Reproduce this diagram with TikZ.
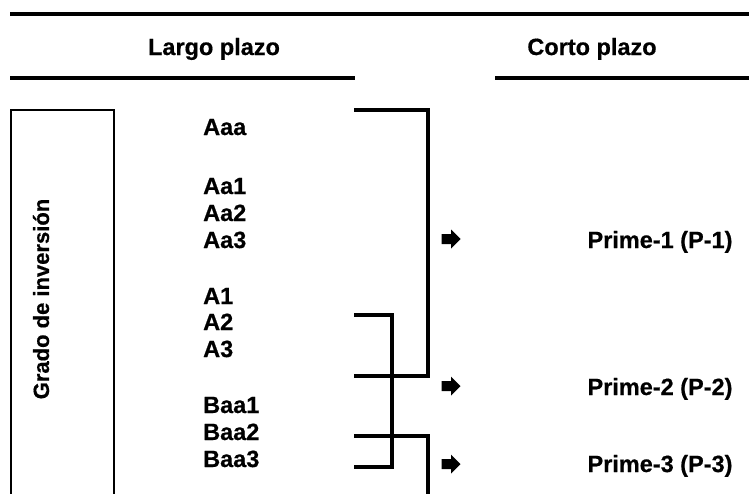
\documentclass[tikz,border=0pt]{standalone}
\usepackage{fontspec}
\setmainfont{Liberation Sans}[BoldFeatures={FakeBold=0.6}]
\begin{document}
\begin{tikzpicture}[x=1pt,y=-1pt,
  txt/.style={font=\fontsize{23.5}{28}\selectfont\bfseries, inner sep=0pt},
  lbl/.style={txt, anchor=base west},
  hdr/.style={txt, anchor=base},
  rulel/.style={line width=3.3pt},
  brk/.style={line width=3.3pt, line join=miter},
  blockarrow/.style={fill=black}
]
\useasboundingbox (0,0) rectangle (749,493);
% header rules
\coordinate (t1) at (10,14);   \coordinate (t2) at (752,14);
\coordinate (l1) at (10,78);   \coordinate (l2) at (355,78);
\coordinate (r1) at (495,78);  \coordinate (r2) at (752,78);
\draw[rulel] (t1) -- (t2);
\draw[rulel] (l1) -- (l2);
\draw[rulel] (r1) -- (r2);
\node[hdr] (largo) at (214,55) {Largo plazo};
\node[hdr] (corto) at (592,55) {Corto plazo};
% side box
\node[draw, line width=2pt, minimum width=103pt, minimum height=420pt, anchor=north west, inner sep=0pt] (box) at (10,109) {};
\node[inner sep=0pt, font=\fontsize{22}{26}\selectfont\bfseries, rotate=90] (grado) at (41,299) {Grado de inversión};
% labels
\node[lbl] (aaa) at (203,135) {Aaa};
\node[lbl] (aa1) at (203,194) {Aa1};
\node[lbl] (aa2) at (203,221) {Aa2};
\node[lbl] (aa3) at (203,248) {Aa3};
\node[lbl] (a1) at (203,304) {A1};
\node[lbl] (a2) at (203,330) {A2};
\node[lbl] (a3) at (203,357) {A3};
\node[lbl] (baa1) at (203,413) {Baa1};
\node[lbl] (baa2) at (203,440) {Baa2};
\node[lbl] (baa3) at (203,467) {Baa3};
% brackets
\coordinate (b1a) at (354,110); \coordinate (b1b) at (428,110);
\coordinate (b1c) at (428,376); \coordinate (b1d) at (354,376);
\coordinate (b2a) at (354,315); \coordinate (b2b) at (392,315);
\coordinate (b2c) at (392,467); \coordinate (b2d) at (354,467);
\coordinate (b3a) at (354,436); \coordinate (b3b) at (428,436);
\coordinate (b3c) at (428,500);
\draw[brk] (b1a) -- (b1b) -- (b1c) -- (b1d);
\draw[brk] (b2a) -- (b2b) -- (b2c) -- (b2d);
\draw[brk] (b3a) -- (b3b) -- (b3c);
% arrows
\coordinate (ar1) at (451,239);
\coordinate (ar2) at (451,386);
\coordinate (ar3) at (451,464);
\foreach \c in {ar1,ar2,ar3}
  \fill[blockarrow, shift={(\c)}] (-9.5,-5) -- (0,-5) -- (0,-9.5)
    -- (9.5,0) -- (0,9.5) -- (0,5) -- (-9.5,5) -- cycle;
% results
\node[hdr] (p1) at (660,248) {Prime-1 (P-1)};
\node[hdr] (p2) at (660,395) {Prime-2 (P-2)};
\node[hdr] (p3) at (660,472) {Prime-3 (P-3)};
\end{tikzpicture}
\end{document}
